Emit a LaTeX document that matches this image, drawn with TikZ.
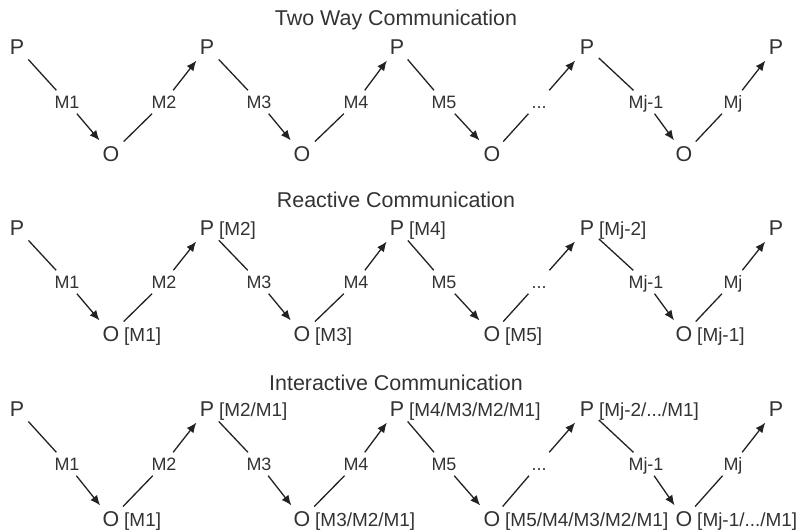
\documentclass[tikz,border=0pt]{standalone}
\usepackage{fontspec}
\setmainfont{Liberation Sans}
\usetikzlibrary{arrows.meta}
\definecolor{ink}{HTML}{333333}
\definecolor{wire}{HTML}{222222}

% One chain P -> O -> P ... with its message labels.
% #1 row id, #2 title y, #3 P y, #4 label y, #5 O y, #6 title
\newcommand{\commrow}[6]{%
  \node[ttl] (t#1) at (396,#2) {#6};
  \node[pnode] (p#1a) at (17,#3)  {P};
  \node[pnode] (p#1b) at (207,#3) {P};
  \node[pnode] (p#1c) at (397,#3) {P};
  \node[pnode] (p#1d) at (587,#3) {P};
  \node[pnode] (p#1e) at (776,#3) {P};
  \node[pnode] (o#1a) at (111,#5) {O};
  \node[pnode] (o#1b) at (302,#5) {O};
  \node[pnode] (o#1c) at (492,#5) {O};
  \node[pnode] (o#1d) at (684,#5) {O};
  \node[msg] (m#1a) at (67,#4)  {M1};
  \node[msg] (m#1b) at (164,#4) {M2};
  \node[msg] (m#1c) at (259,#4) {M3};
  \node[msg] (m#1d) at (356,#4) {M4};
  \node[msg] (m#1e) at (444,#4) {M5};
  \node[msg] (m#1f) at (539,#4) {...};
  \node[msg] (m#1g) at (646,#4) {Mj-1};
  \node[msg] (m#1h) at (733,#4) {Mj};
  \draw[seg] (p#1a) -- (m#1a); \draw[arr] (m#1a) -- (o#1a);
  \draw[seg] (o#1a) -- (m#1b); \draw[arr] (m#1b) -- (p#1b);
  \draw[seg] (p#1b) -- (m#1c); \draw[arr] (m#1c) -- (o#1b);
  \draw[seg] (o#1b) -- (m#1d); \draw[arr] (m#1d) -- (p#1c);
  \draw[seg] (p#1c) -- (m#1e); \draw[arr] (m#1e) -- (o#1c);
  \draw[seg] (o#1c) -- (m#1f); \draw[arr] (m#1f) -- (p#1d);
  \draw[seg] (p#1d) -- (m#1g); \draw[arr] (m#1g) -- (o#1d);
  \draw[seg] (o#1d) -- (m#1h); \draw[arr] (m#1h) -- (p#1e);
}

\begin{document}
\begin{tikzpicture}[x=1bp,y=-1bp,
  pnode/.style={font=\fontsize{21.5}{21.5}\selectfont, text=ink, inner sep=4.5bp,
                text height=15.5bp, text depth=0bp},
  msg/.style={font=\fontsize{18}{18}\selectfont, text=ink, inner sep=5bp,
              text height=13bp, text depth=0bp},
  brk/.style={font=\fontsize{19}{19}\selectfont, text=ink, inner sep=0pt,
              anchor=base west},
  ttl/.style={font=\fontsize{21.5}{21.5}\selectfont, text=ink},
  seg/.style={draw=wire, line width=1.3bp},
  arr/.style={seg, -{Latex[length=10bp,width=8.5bp]}, shorten >=1.5bp},
]
\fill[white] (0,0) rectangle (806,531);
\useasboundingbox (0,0) rectangle (806,531);

\commrow{1}{20}{47}{102}{154}{Two Way Communication}
\commrow{2}{200}{228}{282}{334}{Reactive Communication}
\commrow{3}{383}{409}{464}{519}{Interactive Communication}

% memory carried by each party, reactive case
\node[brk] (r2pb) at (p2b.base east) {[M2]};
\node[brk] (r2pc) at (p2c.base east) {[M4]};
\node[brk] (r2pd) at (p2d.base east) {[Mj-2]};
\node[brk] (r2oa) at (o2a.base east) {[M1]};
\node[brk] (r2ob) at (o2b.base east) {[M3]};
\node[brk] (r2oc) at (o2c.base east) {[M5]};
\node[brk] (r2od) at (o2d.base east) {[Mj-1]};

% memory carried by each party, interactive case
\node[brk] (r3pb) at (p3b.base east) {[M2/M1]};
\node[brk] (r3pc) at (p3c.base east) {[M4/M3/M2/M1]};
\node[brk] (r3pd) at (p3d.base east) {[Mj-2/.../M1]};
\node[brk] (r3oa) at (o3a.base east) {[M1]};
\node[brk] (r3ob) at (o3b.base east) {[M3/M2/M1]};
\node[brk] (r3oc) at (o3c.base east) {[M5/M4/M3/M2/M1]};
\node[brk] (r3od) at (o3d.base east) {[Mj-1/.../M1]};
\end{tikzpicture}
\end{document}
